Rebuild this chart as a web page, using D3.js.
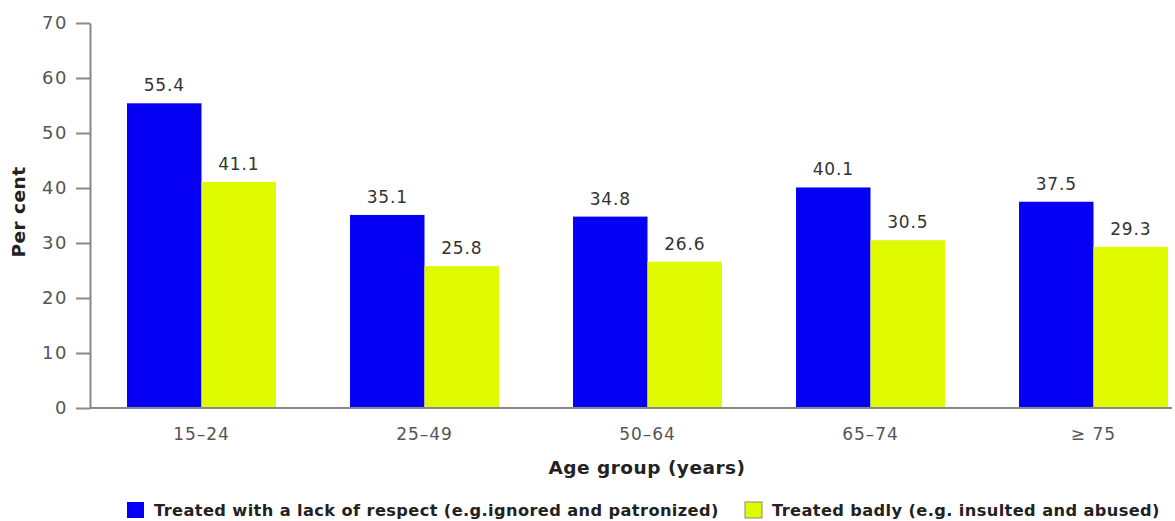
<!DOCTYPE html>
<html>
<head>
<meta charset="utf-8">
<script src="https://cdn.jsdelivr.net/npm/d3@7"></script>
<style>
  body { margin: 0; background: #fff; }
  .tick text { fill: #555; font-family: "DejaVu Sans", sans-serif; font-size: 17px; letter-spacing: 1px; }
  .yax .tick text { font-size: 18px; letter-spacing: 1.5px; }
  .val { fill: #333; font-family: "DejaVu Sans", sans-serif; font-size: 17px; letter-spacing: 0.8px; text-anchor: middle; }
  .title { fill: #222; font-family: "DejaVu Sans", sans-serif; font-size: 18.5px; font-weight: bold; letter-spacing: 0.5px; }
  .leg { fill: #222; font-family: "DejaVu Sans", sans-serif; font-size: 16.2px; font-weight: bold; letter-spacing: 0.4px; }
</style>
</head>
<body>
<div class="chart"></div>
<script>
const groups = ["15\u201324", "25\u201349", "50\u201364", "65\u201374", "\u2265 75"]
const seriesNames = ["Treated with a lack of respect (e.g.ignored and patronized)", "Treated badly (e.g. insulted and abused)"]
const respect = [55.4, 35.1, 34.8, 40.1, 37.5]
const badly = [41.1, 25.8, 26.6, 30.5, 29.3]
const yTicks = [0, 10, 20, 30, 40, 50, 60, 70]
const colors = ["#0500f5", "#e0fb00"]

const width = 1175
const height = 521

const svg = d3.select(".chart")
    .append("svg")
    .attr("width", width)
    .attr("height", height)

const x0 = d3.scaleBand()
    .domain(groups)
    .range([90, 1205])
    .paddingInner(0.332)
    .paddingOuter(0.166)

const x1 = d3.scaleBand()
    .domain([0, 1])
    .range([0, x0.bandwidth()])

const y = d3.scaleLinear()
    .domain([0, 70])
    .range([408, 23])

const data = groups.map((g, i) => ({ group: g, values: [respect[i], badly[i]] }))

// bars
const grp = svg.append("g")
    .selectAll("g")
    .data(data)
    .join("g")
    .attr("transform", d => `translate(${x0(d.group)},0)`)

grp.selectAll("rect")
    .data(d => d.values.map((v, k) => ({ k: k, v: v })))
    .join("rect")
    .attr("x", d => x1(d.k))
    .attr("y", d => y(d.v))
    .attr("width", x1.bandwidth())
    .attr("height", d => y(0) - y(d.v))
    .attr("fill", d => colors[d.k])

grp.selectAll("text")
    .data(d => d.values.map((v, k) => ({ k: k, v: v })))
    .join("text")
    .attr("class", "val")
    .attr("x", d => x1(d.k) + x1.bandwidth() / 2)
    .attr("y", d => y(d.v) - 12)
    .text(d => d.v.toFixed(1))

// y axis
const yAxis = svg.append("g")
    .attr("class", "yax")
    .attr("transform", "translate(90,0)")
    .call(d3.axisLeft(y).tickValues(yTicks).tickSize(14).tickPadding(8).tickSizeOuter(0))
yAxis.select(".domain").attr("stroke", "#888").attr("stroke-width", 2)
yAxis.selectAll(".tick line").attr("stroke", "#888").attr("stroke-width", 2)

// x axis
const xAxis = svg.append("g")
    .attr("transform", `translate(0,${y(0)})`)
    .call(d3.axisBottom(x0).tickSize(0).tickPadding(20))
xAxis.select(".domain").attr("d", "M90,0H1172").attr("stroke", "#888").attr("stroke-width", 2)

// titles
svg.append("text")
    .attr("class", "title")
    .attr("x", 647)
    .attr("y", 474)
    .attr("text-anchor", "middle")
    .text("Age group (years)")

svg.append("text")
    .attr("class", "title")
    .attr("transform", "translate(25,212) rotate(-90)")
    .attr("text-anchor", "middle")
    .text("Per cent")

// legend
const legX = [127, 745]
const leg = svg.append("g")
    .selectAll("g")
    .data(seriesNames)
    .join("g")
    .attr("transform", (d, i) => `translate(${legX[i]},502)`)

leg.append("rect")
    .attr("width", 17)
    .attr("height", 16)
    .attr("fill", (d, i) => colors[i])
    .attr("stroke", (d, i) => i == 1 ? "#888" : "none")

leg.append("text")
    .attr("class", "leg")
    .attr("x", 27)
    .attr("y", 14)
    .text(d => d)
</script>
</body>
</html>
